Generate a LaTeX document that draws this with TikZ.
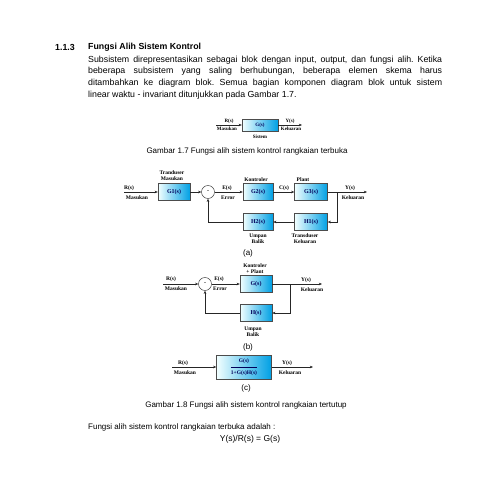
\documentclass[tikz,border=0pt]{standalone}
\usepackage{fontspec}
\setmainfont{Liberation Serif}
\newfontfamily\arialf{Liberation Sans}
\usetikzlibrary{arrows.meta}
\frenchspacing
\begin{document}
\begin{tikzpicture}[x=1pt,y=-1pt,
  blk/.style={draw=black!70, line width=0.45pt, left color=cyan!5, right color={rgb,255:red,0;green,160;blue,228},
    minimum width=32pt, minimum height=17pt, inner sep=0pt, text=blue!35!black,
    font=\bfseries\fontsize{6}{7}\selectfont},
  lbl/.style={font=\bfseries\fontsize{5.5}{6}\selectfont, inner sep=0pt},
  sumc/.style={circle, draw=black!80, line width=0.45pt, minimum size=13pt, inner sep=0pt, fill=white,
    font=\bfseries\fontsize{6}{7}\selectfont},
  arr/.style={-{Stealth[length=3.2pt,width=2.6pt]}, line width=0.5pt, draw=black!85},
  body/.style={font=\arialf\fontsize{8.8}{10}\selectfont, inner sep=0pt, anchor=west},
  figcap/.style={font=\arialf\fontsize{8}{9}\selectfont, inner sep=0pt},
  sublbl/.style={font=\arialf\fontsize{8}{9}\selectfont, inner sep=0pt}]
\useasboundingbox (0,0) rectangle (495,495);
\fill[white] (0,0) rectangle (495,495);

% ---------- text ----------
\node[body, font=\arialf\bfseries\fontsize{8.8}{10}\selectfont] (h1) at (55,47) {1.1.3};
\node[body, font=\arialf\bfseries\fontsize{8.8}{10}\selectfont] (h2) at (88,47) {Fungsi Alih Sistem Kontrol};
\node[body] (p1) at (88,60) {\makebox[354pt][s]{Subsistem direpresentasikan sebagai blok dengan input, output, dan fungsi alih. Ketika}};
\node[body] (p2) at (88,71.7) {\makebox[354pt][s]{beberapa subsistem yang saling berhubungan, beberapa elemen skema harus}};
\node[body] (p3) at (88,83.4) {\makebox[354pt][s]{ditambahkan ke diagram blok. Semua bagian komponen diagram blok untuk sistem}};
\node[body] (p4) at (88,95) {linear waktu - invariant ditunjukkan pada Gambar 1.7.};

% ---------- open loop ----------
\node[blk, minimum width=36pt, minimum height=12pt, font=\bfseries\fontsize{5}{6}\selectfont] (g) at (260,125) {G(s)};
\coordinate (r0) at (216,125);
\coordinate (y0) at (302,125);
\draw[arr] (r0) -- (g.west);
\draw[arr] (g.east) -- (y0);
\node[lbl, font=\bfseries\fontsize{5}{6}\selectfont] (l1) at (229,121) {R(s)};
\node[lbl, font=\bfseries\fontsize{5}{6}\selectfont] (l2) at (227,129) {Masukan};
\node[lbl, font=\bfseries\fontsize{5}{6}\selectfont] (l3) at (290,121) {Y(s)};
\node[lbl, font=\bfseries\fontsize{5}{6}\selectfont] (l4) at (291,129) {Keluaran};
\node[lbl, font=\bfseries\fontsize{5}{6}\selectfont] (l5) at (260,137) {Sistem};
\node[figcap] (c17) at (247,151) {Gambar 1.7 Fungsi alih sistem kontrol rangkaian terbuka};

% ---------- (a) ----------
\node[blk] (g1) at (174,192) {G1(s)};
\node[sumc] (sa) at (208,192) {-};
\node[blk, minimum width=30pt] (g2) at (258,192) {G2(s)};
\node[blk, minimum width=33pt] (g3) at (311,192) {G3(s)};
\node[blk, minimum width=33pt] (hh1) at (311,222) {H1(s)};
\node[blk, minimum width=30pt] (hh2) at (258,222) {H2(s)};
\coordinate (ra) at (124,192);
\coordinate (ya) at (367,192);
\coordinate (ba) at (337,192);
\draw[arr] (ra) -- (g1.west);
\draw[arr] (g1.east) -- (sa.west);
\draw[arr] (sa.east) -- (g2.west);
\draw[arr] (g2.east) -- (g3.west);
\draw[arr] (g3.east) -- (ya);
\draw[arr] (ba) |- (hh1.east);
\draw[arr] (hh1.west) -- (hh2.east);
\draw[arr] (hh2.west) -| (sa.south);
\node[lbl] (a1) at (172,173) {Tranduser};
\node[lbl] (a2) at (172,179) {Masukan};
\node[lbl] (a3) at (129,188) {R(s)};
\node[lbl] (a4) at (137,198) {Masukan};
\node[lbl] (a5) at (227,188) {E(s)};
\node[lbl] (a6) at (228,198) {Error};
\node[lbl] (a7) at (256,180) {Kontroler};
\node[lbl] (a8) at (284,188) {C(s)};
\node[lbl] (a9) at (303,180) {Plant};
\node[lbl] (a10) at (350,188) {Y(s)};
\node[lbl] (a11) at (353,198) {Keluaran};
\node[lbl] (a12) at (258,236) {Umpan};
\node[lbl] (a13) at (258,242) {Balik};
\node[lbl] (a14) at (305,236) {Transduser};
\node[lbl] (a15) at (305,242) {Keluaran};
\node[sublbl] (la) at (248,253) {(a)};

% ---------- (b) ----------
\node[blk] (gb) at (256,284) {G(s)};
\node[sumc] (sb) at (205,284) {-};
\node[blk] (hb) at (256,313) {H(s)};
\coordinate (rb) at (163,284);
\coordinate (yb) at (322,284);
\coordinate (bb) at (290,284);
\draw[arr] (rb) -- (sb.west);
\draw[arr] (sb.east) -- (gb.west);
\draw[arr] (gb.east) -- (yb);
\draw[arr] (bb) |- (hb.east);
\draw[arr] (hb.west) -| (sb.south);
\node[lbl] (b1) at (255,266) {Kontroler};
\node[lbl] (b2) at (255,272) {+ Plant};
\node[lbl] (b3) at (171,279) {R(s)};
\node[lbl] (b4) at (176,289) {Masukan};
\node[lbl] (b5) at (219,279) {E(s)};
\node[lbl] (b6) at (220,289) {Error};
\node[lbl] (b7) at (306,280) {Y(s)};
\node[lbl] (b8) at (312,290) {Keluaran};
\node[lbl] (b9) at (253,329) {Umpan};
\node[lbl] (b10) at (253,335) {Balik};
\node[sublbl] (lb) at (248,347) {(b)};

% ---------- (c) ----------
\node[blk, minimum width=55pt, minimum height=24pt] (gc) at (244,367) {};
\node[lbl, text=blue!35!black] (gcn) at (244,361) {G(s)};
\node[lbl, text=blue!35!black] (gcd) at (244,373) {1+G(s)H(s)};
\draw[line width=0.45pt, draw=blue!35!black] (gcd.west |- gc.center) -- (gcd.east |- gc.center);
\coordinate (rc) at (172,367);
\coordinate (yc) at (313,367);
\draw[arr] (rc) -- (gc.west);
\draw[arr] (gc.east) -- (yc);
\node[lbl] (c1) at (183,363) {R(s)};
\node[lbl] (c2) at (185,373) {Masukan};
\node[lbl] (c3) at (287,363) {Y(s)};
\node[lbl] (c4) at (290,373) {Keluaran};
\node[sublbl] (lc) at (246,388) {(c)};
\node[figcap] (c18) at (246,405) {Gambar 1.8 Fungsi alih sistem kontrol rangkaian tertutup};

% ---------- bottom ----------
\node[body, font=\arialf\fontsize{8}{9}\selectfont] (q1) at (88,427) {Fungsi alih sistem kontrol rangkaian terbuka adalah :};
\node[body, anchor=center, font=\arialf\fontsize{8.5}{9}\selectfont] (q2) at (250,439) {Y(s)/R(s) = G(s)};
\end{tikzpicture}
\end{document}
